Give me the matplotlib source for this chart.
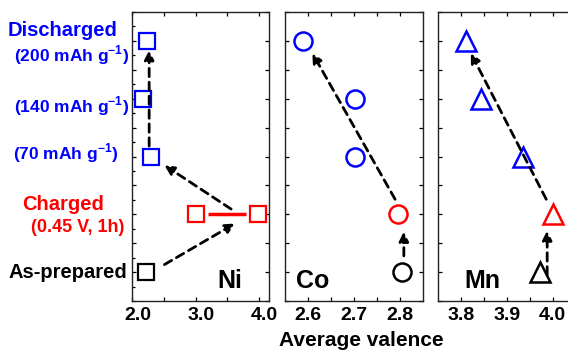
import matplotlib
matplotlib.use("Agg")
import matplotlib.pyplot as plt
from matplotlib.transforms import ScaledTranslation

plt.rcParams['font.family'] = ['Liberation Sans', 'DejaVu Sans']
plt.rcParams['font.weight'] = 'bold'
plt.rcParams['mathtext.fontset'] = 'custom'
plt.rcParams['mathtext.rm'] = 'Liberation Sans:bold'
plt.rcParams['mathtext.bf'] = 'Liberation Sans:bold'

# state levels: 0 as-prepared, 1 charged, 2/3/4 discharged 70/140/200 mAh g-1
levels = [0, 1, 2, 3, 4]
level_colors = ['black', 'red', 'blue', 'blue', 'blue']

# average valence
ni_valence = [2.22, 3.0, 2.30, 2.18, 2.23]
ni_charged_high = 3.99   # second charged Ni point
co_valence = [2.805, 2.797, 2.703, 2.702, 2.589]
mn_valence = [3.972, 4.0, 3.936, 3.844, 3.812]

# dashed guide arrows, (x0, y0, x1, y1) in data units
ni_arrows = [(2.51, 0.13, 3.62, 0.84), (3.56, 1.09, 2.51, 1.85), (2.27, 2.18, 2.27, 3.84)]
co_arrows = [(2.79, 1.26, 2.61, 3.79), (2.809, 0.28, 2.809, 0.70)]
mn_arrows = [(3.986, 1.26, 3.822, 3.79), (3.988, -0.05, 3.988, 0.72)]

W, H = 568, 351
fig = plt.figure(figsize=(W / 100, H / 100), dpi=100)


def px_axes(x0, x1, y0, y1):
    return fig.add_axes([x0 / W, 1 - y1 / H, (x1 - x0) / W, (y1 - y0) / H])


ax_ni = px_axes(132, 269.3, 12, 301)
ax_co = px_axes(284.7, 422.7, 12, 301)
ax_mn = px_axes(437.7, 575.7, 12, 301)


def style(ax, xlim, major, minor):
    ax.set_xlim(*xlim)
    ax.set_ylim(-0.5, 4.5)
    ax.set_xticks(major)
    ax.set_xticks(minor, minor=True)
    ax.set_yticks([-0.5 + 0.5 * i for i in range(11)])
    ax.set_yticklabels([])
    ax.tick_params(which='both', direction='in', top=True, right=True,
                   length=3, width=0.9, labelsize=14, pad=4)
    for sp in ax.spines.values():
        sp.set_linewidth(1.0)
        sp.set_color('#222222')


def arrows(ax, lst):
    for x0, y0, x1, y1 in lst:
        ax.annotate('', xy=(x1, y1), xytext=(x0, y0),
                    arrowprops=dict(arrowstyle='-|>', color='black', lw=2.0,
                                    linestyle=(0, (3, 2)), mutation_scale=14,
                                    shrinkA=0, shrinkB=0))


# Ni
style(ax_ni, (2.0, 4.16), [2.0, 3.0, 4.0], [2.5, 3.5])
ax_ni.set_xticklabels(['2.0', '3.0', '4.0'])
ax_ni.set_yticks([-0.25 + 0.5 * i for i in range(10)], minor=True)
ax_ni.tick_params(axis='y', which='minor', right=False, length=2.5)
arrows(ax_ni, ni_arrows)
ax_ni.plot([3.19, 3.80], [levels[1], levels[1]], color='red', lw=2.5, solid_capstyle='butt')
for v, lv, c in zip(ni_valence, levels, level_colors):
    ax_ni.plot(v, lv, marker='s', ms=11, mfc='white', mec=c, mew=1.6, ls='none')
ax_ni.plot(ni_charged_high, levels[1], marker='s', ms=11, mfc='white', mec='red', mew=1.6)
ax_ni.text(0.714, 0.069, 'Ni', transform=ax_ni.transAxes, ha='center', va='center',
           fontsize=18, fontweight='bold')
for lab in ax_ni.get_xticklabels():
    lab.set_transform(lab.get_transform() + ScaledTranslation(4 / 72, 0, fig.dpi_scale_trans))

# Co
style(ax_co, (2.55, 2.85), [2.6, 2.7, 2.8], [2.65, 2.75])
ax_co.set_xticklabels(['2.6', '2.7', '2.8'])
arrows(ax_co, co_arrows)
for v, lv, c in zip(co_valence, levels, level_colors):
    ax_co.plot(v, lv, marker='o', ms=13, mfc='white', mec=c, mew=1.8, ls='none')
ax_co.text(0.205, 0.069, 'Co', transform=ax_co.transAxes, ha='center', va='center',
           fontsize=18, fontweight='bold')

# Mn
style(ax_mn, (3.75, 4.05), [3.8, 3.9, 4.0], [3.85, 3.95])
ax_mn.set_xticklabels(['3.8', '3.9', '4.0'])
arrows(ax_mn, mn_arrows)
for v, lv, c in zip(mn_valence, levels, level_colors):
    ax_mn.plot(v, lv, marker='^', ms=14, mfc='white', mec=c, mew=1.8, ls='none')
ax_mn.text(0.321, 0.069, 'Mn', transform=ax_mn.transAxes, ha='center', va='center',
           fontsize=18, fontweight='bold')

fig.text(361 / W, 1 - 341 / H, 'Average valence', ha='center', va='center',
         fontsize=15, fontweight='bold')

# state labels on the left
side_labels = [
    ('Discharged', 63, 30, 'blue', 14.5),
    ('(200 mAh g$^{-1}$)', 72, 55, 'blue', 12.5),
    ('(140 mAh g$^{-1}$)', 71.5, 106, 'blue', 12.5),
    ('(70 mAh g$^{-1}$)', 66, 153, 'blue', 12.5),
    ('Charged', 63.5, 205, 'red', 14.5),
    ('(0.45 V, 1h)', 77.5, 228, 'red', 13),
    ('As-prepared', 67.5, 273, 'black', 14.5),
]
for txt, x, y, c, fs in side_labels:
    fig.text(x / W, 1 - y / H, txt, ha='center', va='center', color=c,
             fontsize=fs, fontweight='bold')

fig.savefig('out.png', dpi=100)
